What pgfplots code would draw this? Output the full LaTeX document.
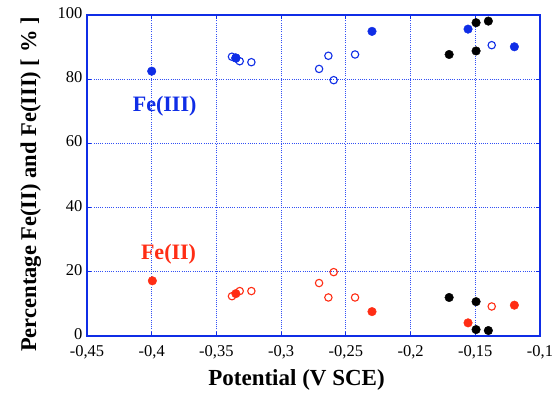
\documentclass[border=0pt]{standalone}
\usepackage{pgfplots}
\pgfplotsset{compat=1.18}
\usepackage{fontspec}
\setmainfont{Liberation Serif}
\definecolor{fblue}{RGB}{15,45,230}
\definecolor{gblue}{RGB}{50,80,245}
\definecolor{fred}{RGB}{255,45,20}
\begin{document}
\begin{tikzpicture}
\begin{axis}[
  scale only axis,
  width=453pt, height=321pt,
  xmin=-0.45, xmax=-0.1, ymin=0, ymax=100,
  xtick={-0.45,-0.4,-0.35,-0.3,-0.25,-0.2,-0.15,-0.1},
  xticklabels={{-0,45},{-0,4},{-0,35},{-0,3},{-0,25},{-0,2},{-0,15},{-0,1}},
  ytick={0,20,40,60,80,100},
  /pgf/number format/assume math mode=true,
  tick label style={font=\rmfamily\fontsize{16.5}{18}\selectfont, black, inner sep=1pt},
  xticklabel style={yshift=-8.5pt},
  yticklabel style={xshift=-3.5pt, yshift=2pt},
  xlabel={Potential (V SCE)},
  ylabel={Percentage Fe(II) and Fe(III) [ \% ]},
  ylabel style={font=\rmfamily\fontsize{22.5}{24}\selectfont\bfseries, yshift=12pt, xshift=-9pt},
  xlabel style={font=\rmfamily\fontsize{23}{25}\selectfont\bfseries, yshift=-6pt, xshift=-17pt},
  axis line style={fblue, line width=1.1pt},
  grid=major,
  major grid style={gblue, dash pattern=on 1pt off 1.2pt, line width=0.9pt},
  major tick style={fblue, line width=0.8pt},
  major tick length=4pt,
  tick align=inside,
  clip=false,
]
% Fe(III) filled blue
\addplot[only marks, mark=*, mark size=4.3pt, fblue, mark options={fill=fblue, draw=fblue}] coordinates {
(-0.400,82.5) (-0.335,86.6) (-0.2298,94.9) (-0.1556,95.6) (-0.1198,90.1)};
% Fe(III) open blue
\addplot[only marks, mark=o, mark size=3.7pt, fblue, mark options={line width=1.1pt, fill=white}] coordinates {
(-0.338,87.0) (-0.332,85.6) (-0.323,85.3) (-0.2707,83.2) (-0.2635,87.3) (-0.2594,79.7) (-0.2429,87.7) (-0.1373,90.6)};
% redraw filled on top of open for overlap
\addplot[only marks, mark=*, mark size=4.3pt, fblue, mark options={fill=fblue, draw=fblue}] coordinates {
(-0.335,86.6)};
% Fe(II) filled red
\addplot[only marks, mark=*, mark size=4.3pt, fred, mark options={fill=fred, draw=fred}] coordinates {
(-0.3995,17.2) (-0.2298,7.6) (-0.1556,4.1) (-0.1198,9.6)};
% Fe(II) open red
\addplot[only marks, mark=o, mark size=3.7pt, fred, mark options={line width=1.1pt, fill=white}] coordinates {
(-0.338,12.4) (-0.332,14.0) (-0.323,14.0) (-0.2707,16.5) (-0.2594,19.9) (-0.2635,12.0) (-0.2429,12.0) (-0.1373,9.2)};
\addplot[only marks, mark=*, mark size=4.3pt, fred, mark options={fill=fred, draw=fred}] coordinates {
(-0.335,13.2)};
% black filled
\addplot[only marks, mark=*, mark size=4.3pt, black, mark options={fill=black, draw=black}] coordinates {
(-0.1494,97.6) (-0.1399,98.1) (-0.1702,87.7) (-0.1494,88.8)
(-0.1702,12.0) (-0.1494,10.7) (-0.1494,2.0) (-0.1399,1.7)};
\node[font=\rmfamily\fontsize{22}{24}\selectfont\bfseries, text=fblue] at (axis cs:-0.390,71.6) {Fe(III)};
\node[font=\rmfamily\fontsize{22}{24}\selectfont\bfseries, text=fred] at (axis cs:-0.387,25.5) {Fe(II)};
\end{axis}
\pgfresetboundingbox
\path ([shift={(-87pt,-60pt)}]current axis.south west) rectangle ([shift={(16pt,15pt)}]current axis.north east);
\end{tikzpicture}
\end{document}
